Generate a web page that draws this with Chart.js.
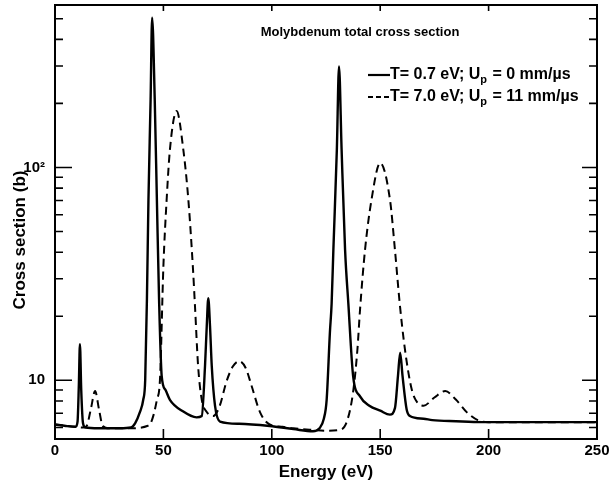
<!DOCTYPE html>
<html>
<head>
<meta charset="utf-8">
<script src="https://cdn.jsdelivr.net/npm/chart.js@4/dist/chart.umd.min.js"></script>
<style>
  body { margin: 0; background: #fff; }
  #chart { display: block; }
</style>
</head>
<body>
<canvas id="chart" width="609" height="487"></canvas>
<script>
// T = 0.7 eV, Up = 0 (solid)
const energyCold = [0, 5, 9.5, 10.4, 11.0, 11.5, 12.1, 12.9, 14, 20, 30, 35, 37, 39.2, 40.7, 41.6, 42.4, 43.1, 44.1, 44.8, 46.0, 47.0, 48.0, 49.2, 51, 53, 59, 65.3, 67.7, 69.2, 70.0, 70.7, 71.5, 72.3, 73.8, 76.1, 85, 99, 110, 119, 122, 124, 125.3, 126.8, 127.6, 128.4, 130, 131, 132.2, 133.8, 135.3, 137.5, 140.7, 145, 150, 154.5, 156.8, 158.2, 159.2, 160.3, 162.2, 163.7, 170, 174, 185, 197, 220, 250];
const sigmaCold = [6.2, 6.1, 6.05, 6.4, 9.5, 14.8, 9.0, 6.3, 6.0, 5.95, 5.95, 6.0, 6.3, 7.1, 8.1, 10, 24, 70, 209, 506, 209, 70, 24, 10.5, 9.0, 8.1, 7.15, 6.7, 6.8, 11.7, 18, 24.3, 18, 11.7, 7.6, 6.4, 6.25, 6.1, 5.9, 5.76, 5.95, 6.6, 8.1, 16.8, 23, 41, 121, 298, 121, 41, 23, 10.5, 8.4, 7.6, 7.2, 6.9, 7.4, 10.5, 13.5, 10.5, 7.3, 6.8, 6.6, 6.5, 6.42, 6.36, 6.36, 6.36];

// T = 7.0 eV, Up = 11 mm/us (dashed)
const energyHot = [0, 9, 13, 14.6, 16.5, 18.5, 20.3, 22, 25, 35, 40, 42.5, 43.8, 45.5, 47, 48.4, 50, 51.5, 53, 56.1, 59.2, 61.5, 63.6, 64.6, 66, 67.7, 70, 73, 76, 79, 82, 85, 88, 90.7, 94.6, 99, 105, 110, 119, 125, 131, 134.5, 137.5, 139.5, 140.7, 143, 146, 150, 154.5, 156.8, 159, 161.4, 164.5, 167, 170, 175, 180, 185, 190, 195, 200, 250];
const sigmaHot = [6.2, 6.05, 6.0, 6.1, 7.3, 8.9, 7.3, 6.1, 5.95, 5.95, 6.0, 6.1, 6.2, 6.9, 8.1, 10, 34.4, 70.7, 121, 184, 121, 70.7, 34, 22, 11.7, 8.1, 7.1, 6.8, 7.6, 9.8, 11.6, 12.3, 11.4, 9.4, 7.07, 6.2, 6.05, 5.95, 5.85, 5.8, 5.85, 6.35, 8.8, 14, 21.5, 41, 70.7, 105, 70.7, 41, 23, 14, 9.1, 7.9, 7.6, 8.3, 8.9, 8.1, 7.07, 6.5, 6.36, 6.36];

// tick values for the axes
const xTickValues = [0, 50, 100, 150, 200, 250];
const yTickValues = [6, 7, 8, 9, 10, 20, 30, 40, 50, 60, 70, 80, 90, 100, 200, 300, 400, 500];
const yMajorValues = [10, 100];

const chartTitle = 'Molybdenum total cross section';
const xTitle = 'Energy (eV)';
const yTitle = 'Cross section (b)';

function toPoints(xs, ys) {
    return xs.map((x, i) => ({ x: x, y: ys[i] }));
}

// frame, inward ticks, title and legend drawn on top of the chart
const framePlugin = {
    id: 'frame',
    afterDraw(chart) {
        const ctx = chart.ctx;
        const area = chart.chartArea;
        const xs = chart.scales.x;
        const ys = chart.scales.y;

        ctx.save();
        ctx.strokeStyle = '#000';
        ctx.lineWidth = 2;
        ctx.strokeRect(area.left, area.top, area.right - area.left, area.bottom - area.top);

        // y ticks on both sides, pointing inward
        ctx.lineWidth = 1.6;
        yTickValues.forEach(v => {
            const py = ys.getPixelForValue(v);
            const major = yMajorValues.includes(v);
            ctx.beginPath();
            ctx.moveTo(area.left, py);
            ctx.lineTo(area.left + (major ? 17 : 8), py);
            ctx.moveTo(area.right, py);
            ctx.lineTo(area.right - (major ? 15 : 8), py);
            ctx.stroke();
        });

        // x ticks on bottom and top
        xTickValues.slice(1, -1).forEach(v => {
            const px = xs.getPixelForValue(v);
            ctx.beginPath();
            ctx.moveTo(px, area.bottom);
            ctx.lineTo(px, area.bottom - 10);
            ctx.moveTo(px, area.top);
            ctx.lineTo(px, area.top + 6);
            ctx.stroke();
        });

        // y axis title
        ctx.fillStyle = '#000';
        ctx.font = 'bold 17px "Liberation Sans", sans-serif';
        ctx.textAlign = 'center';
        ctx.textBaseline = 'middle';
        ctx.save();
        ctx.translate(20, 240);
        ctx.rotate(-Math.PI / 2);
        ctx.fillText(yTitle, 0, 0);
        ctx.restore();

        // title inside the plot
        ctx.font = 'bold 13px "Liberation Sans", sans-serif';
        ctx.textAlign = 'center';
        ctx.fillText(chartTitle, 360, 32);

        // legend
        const legendRows = [
            { y: 75, dash: [], width: 2.2, t: '0.7', u: '0' },
            { y: 97, dash: [5, 3], width: 1.8, t: '7.0', u: '11' }
        ];
        legendRows.forEach(row => {
            ctx.setLineDash(row.dash);
            ctx.lineWidth = row.width;
            ctx.beginPath();
            ctx.moveTo(368, row.y);
            ctx.lineTo(390, row.y);
            ctx.stroke();
            ctx.setLineDash([]);

            ctx.textAlign = 'left';
            ctx.font = 'bold 16px "Liberation Sans", sans-serif';
            let x = 390;
            const first = 'T= ' + row.t + ' eV; U';
            ctx.fillText(first, x, row.y);
            x += ctx.measureText(first).width;
            ctx.font = 'bold 11px "Liberation Sans", sans-serif';
            ctx.fillText('p', x, row.y + 5);
            x += ctx.measureText('p').width + 1;
            ctx.font = 'bold 16px "Liberation Sans", sans-serif';
            ctx.fillText(' = ' + row.u + ' mm/\u00b5s', x, row.y);
        });
        ctx.restore();
    }
};

const ctx = document.getElementById('chart');

new Chart(ctx, {
    type: 'line',
    data: {
        datasets: [
            {
                label: 'T= 0.7 eV; Up= 0 mm/\u00b5s',
                data: toPoints(energyCold, sigmaCold),
                borderColor: '#000',
                borderWidth: 2.4,
                pointRadius: 0,
                cubicInterpolationMode: 'monotone',
                fill: false
            },
            {
                label: 'T= 7.0 eV; Up= 11 mm/\u00b5s',
                data: toPoints(energyHot, sigmaHot),
                borderColor: '#000',
                borderWidth: 2,
                borderDash: [8, 5],
                pointRadius: 0,
                cubicInterpolationMode: 'monotone',
                fill: false
            }
        ]
    },
    options: {
        responsive: false,
        animation: false,
        layout: { padding: { top: 5, right: 12, left: 0, bottom: 0 } },
        plugins: {
            legend: { display: false },
            title: { display: false },
            tooltip: { enabled: false }
        },
        scales: {
            x: {
                type: 'linear',
                min: 0,
                max: 250,
                afterBuildTicks: scale => { scale.ticks = xTickValues.map(v => ({ value: v })); },
                afterFit: scale => {
                    scale.height = 48;
                    scale.paddingLeft = 0;
                    scale.paddingRight = 0;
                },
                grid: { display: false, drawTicks: false },
                border: { display: false },
                ticks: {
                    color: '#000',
                    padding: 3,
                    maxRotation: 0,
                    autoSkip: false,
                    font: { family: 'Liberation Sans', size: 15, weight: 'bold' }
                },
                title: {
                    display: true,
                    text: xTitle,
                    color: '#000',
                    padding: { top: 0, bottom: 4 },
                    font: { family: 'Liberation Sans', size: 17, weight: 'bold' }
                }
            },
            y: {
                type: 'logarithmic',
                min: 5.3,
                max: 580,
                afterBuildTicks: scale => { scale.ticks = yTickValues.map(v => ({ value: v })); },
                afterFit: scale => {
                    scale.width = 55;
                    scale.paddingTop = 0;
                    scale.paddingBottom = 0;
                },
                grid: { display: false, drawTicks: false },
                border: { display: false },
                ticks: {
                    color: '#000',
                    padding: 10,
                    autoSkip: false,
                    font: { family: 'Liberation Sans', size: 15, weight: 'bold' },
                    callback: v => v === 10 ? '10' : (v === 100 ? '10\u00b2' : '')
                }
            }
        }
    },
    plugins: [framePlugin]
});
</script>
</body>
</html>
